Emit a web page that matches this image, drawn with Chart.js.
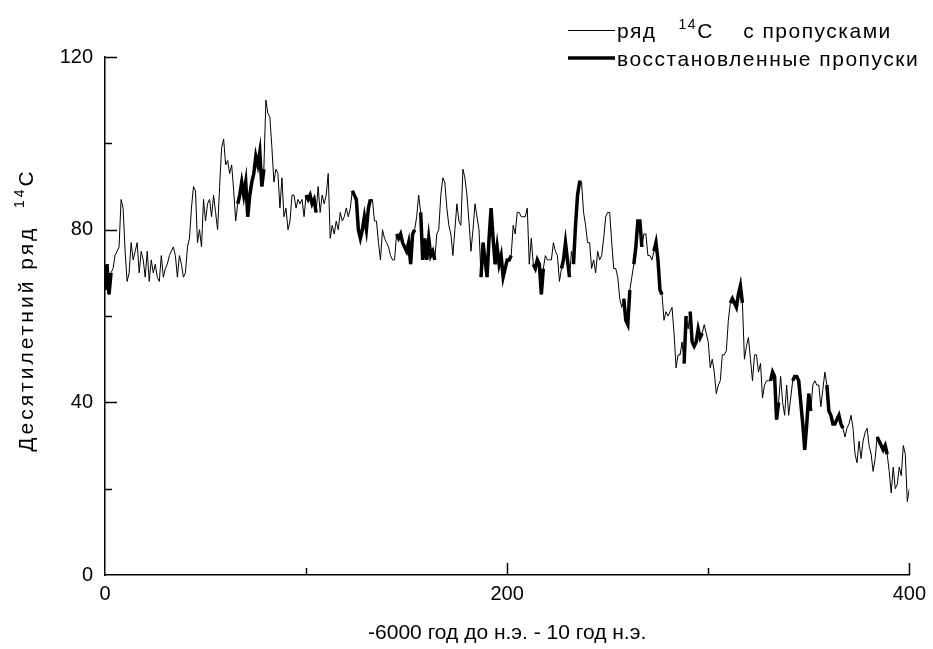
<!DOCTYPE html>
<html>
<head>
<meta charset="utf-8">
<script src="https://cdn.jsdelivr.net/npm/chart.js@4/dist/chart.umd.min.js"></script>
<style>
  body { margin: 0; background: #fff; }
</style>
</head>
<body>
<canvas id="c14-chart" width="933" height="649"></canvas>
<script>
const FONT = "'Liberation Sans', Arial, sans-serif";
Chart.defaults.font.family = FONT;
Chart.defaults.color = '#000';

// десятилетний ряд 14C (индекс 0..400)
let series14C = [
    66, 72, 65, 70, 71, 74, 75, 76, 87, 85,
    75, 68, 70, 77, 73, 75, 77, 70, 75, 73,
    69, 75, 68, 73, 70, 72, 69, 68, 74, 69,
    71, 72, 74, 75, 76, 74, 69, 74, 72, 69,
    70, 76, 78, 85, 90, 89, 77, 80, 76, 87,
    82, 86, 87, 83, 88, 84, 80, 90, 99, 101,
    95, 96, 93, 95, 89, 82, 86, 88, 91, 88,
    91, 83, 88, 91, 93, 97, 95, 98, 90, 94,
    110, 107, 106, 99, 91, 94, 93, 85, 92, 83,
    85, 80, 82, 88, 88, 85, 87, 86, 87, 83,
    88, 87, 88, 86, 87, 84, 90, 84, 88, 86,
    88, 93, 78, 81, 79, 82, 80, 84, 82, 83,
    85, 83, 85, 89, 88, 87, 80, 78, 80, 83,
    80, 85, 87, 87, 82, 82, 77, 73, 80, 78,
    77, 76, 74, 73, 73, 79, 78, 79, 77, 76,
    75, 77, 72, 79, 80, 83, 88, 84, 73, 78,
    73, 78, 74, 75, 73, 79, 80, 88, 92, 91,
    85, 81, 79, 74, 80, 86, 82, 81, 94, 92,
    88, 82, 75, 80, 86, 83, 80, 69, 77, 73,
    69, 78, 85, 78, 72, 76, 72, 74, 69, 71,
    73, 73, 74, 81, 79, 84, 84, 83, 83, 83,
    85, 72, 78, 72, 71, 73, 72, 65, 71, 74,
    73, 73, 73, 77, 75, 74, 68, 71, 73, 77,
    73, 69, 75, 72, 81, 88, 91, 91, 84, 81,
    77, 77, 71, 73, 70, 75, 73, 74, 78, 83,
    84, 84, 77, 71, 71, 69, 64, 62, 64, 59,
    58, 66, 69, 72, 76, 82, 82, 76, 79, 79,
    74, 74, 73, 75, 77, 73, 66, 65, 59, 61,
    60, 61, 62, 56, 48, 51, 51, 54, 49, 60,
    57, 61, 54, 53, 54, 57, 55, 56, 58, 56,
    54, 48, 50, 47, 42, 44, 45, 51, 51, 52,
    59, 63, 64, 63, 62, 65, 67, 63, 50, 53,
    55, 50, 45, 51, 51, 47, 49, 41, 44, 45,
    45, 45, 47, 46, 36, 40, 46, 40, 37, 44,
    37, 41, 45, 46, 46, 45, 40, 35, 29, 35,
    42, 38, 44, 45, 44, 44, 39, 43, 47, 44,
    38, 37, 35, 35, 36, 37, 35, 34, 32, 34,
    35, 37, 34, 28, 26, 31, 27, 31, 33, 34,
    30, 28, 24, 27, 32, 31, 30, 29, 30, 28,
    24, 19, 25, 20, 21, 25, 23, 30, 28, 17,
    20
];

// восстановленные пропуски: [начало, конец] индексов
let restoredRanges = [
    [0, 3], [66, 79], [100, 105], [123, 132], [145, 154], [157, 164],
    [187, 202], [213, 218], [227, 231], [233, 237], [258, 261], [263, 267],
    [273, 277], [288, 289], [291, 297], [311, 317], [331, 335], [342, 351],
    [359, 367], [384, 389]
];

let yTicks = [0, 40, 80, 120];
let xTicks = [0, 200, 400];

let labels = series14C.map((v, i) => i);
let restored = series14C.map((v, i) =>
    restoredRanges.some(r => i >= r[0] && i <= r[1]) ? v : null);

// тики внутрь, как в оригинале
const inwardTicks = {
    id: 'inwardTicks',
    afterDraw(chart) {
        const {ctx, chartArea, scales: {x, y}} = chart;
        ctx.save();
        ctx.strokeStyle = '#000';
        ctx.lineWidth = 1.5;
        for (let v = 20; v <= 120; v += 20) {
            const py = Math.round(y.getPixelForValue(v)) + 0.5;
            const len = v % 40 === 0 ? 12 : 7;
            ctx.beginPath();
            ctx.moveTo(chartArea.left, py);
            ctx.lineTo(chartArea.left + len, py);
            ctx.stroke();
        }
        for (let v = 100; v <= 400; v += 100) {
            const px = Math.round(x.getPixelForValue(v)) + 0.5;
            const len = v % 200 === 0 ? 12 : 7;
            ctx.beginPath();
            ctx.moveTo(px, chartArea.bottom);
            ctx.lineTo(px, chartArea.bottom - len);
            ctx.stroke();
        }
        ctx.restore();
    }
};

// подпись оси Y и легенда (с верхним индексом 14)
const textsPlugin = {
    id: 'textsPlugin',
    afterDraw(chart) {
        const ctx = chart.ctx;
        ctx.save();
        ctx.fillStyle = '#000';
        ctx.textBaseline = 'alphabetic';
        ctx.textAlign = 'left';

        // y title
        const yBig = '21px ' + FONT, ySmall = '14px ' + FONT;
        ctx.font = yBig;
        ctx.letterSpacing = '3px';
        const p1 = 'Десятилетний ряд  ', p3 = 'C';
        const w1 = ctx.measureText(p1).width, w3 = ctx.measureText(p3).width;
        ctx.font = ySmall;
        const w2 = ctx.measureText('14').width;
        const total = w1 + w2 + w3;
        ctx.translate(33, 310);
        ctx.rotate(-Math.PI / 2);
        let cx = -total / 2;
        ctx.font = yBig;
        ctx.fillText(p1, cx, 0);
        ctx.font = ySmall;
        ctx.fillText('14', cx + w1, -9);
        ctx.font = yBig;
        ctx.fillText(p3, cx + w1 + w2, 0);
        ctx.setTransform(1, 0, 0, 1, 0, 0);
        ctx.letterSpacing = '0px';

        // legend
        ctx.strokeStyle = '#000';
        ctx.lineWidth = 1;
        ctx.beginPath();
        ctx.moveTo(568, 30.5);
        ctx.lineTo(615, 30.5);
        ctx.stroke();
        ctx.lineWidth = 3.5;
        ctx.beginPath();
        ctx.moveTo(568, 58);
        ctx.lineTo(615, 58);
        ctx.stroke();

        const lBig = '21px ' + FONT, lSmall = '14px ' + FONT;
        ctx.letterSpacing = '1.5px';
        let lx = 617;
        ctx.font = lBig;
        ctx.fillText('ряд   ', lx, 38);
        lx += ctx.measureText('ряд   ').width;
        ctx.font = lSmall;
        ctx.fillText('14', lx, 29);
        lx += ctx.measureText('14').width;
        ctx.font = lBig;
        ctx.fillText('C    с пропусками', lx, 38);
        ctx.fillText('восстановленные пропуски', 617, 66);
        ctx.restore();
    }
};

const c14 = document.getElementById('c14-chart').getContext('2d');

let c14Chart = new Chart(c14, {
    type: 'line',
    data: {
        labels: labels,
        datasets: [{
            label: 'ряд 14C с пропусками',
            data: series14C,
            borderColor: '#000',
            borderWidth: 1,
            pointRadius: 0,
            tension: 0
        }, {
            label: 'восстановленные пропуски',
            data: restored,
            borderColor: '#000',
            borderWidth: 3.5,
            pointRadius: 0,
            tension: 0,
            spanGaps: false
        }]
    },
    options: {
        responsive: false,
        animation: false,
        layout: {
            padding: {top: 57, right: 20, left: 0, bottom: 0}
        },
        scales: {
            x: {
                type: 'linear',
                min: 0,
                max: 400,
                afterBuildTicks(s) { s.ticks = xTicks.map(v => ({value: v})); },
                ticks: {padding: 7, maxRotation: 0, font: {size: 20}},
                grid: {display: false, drawTicks: false},
                border: {color: '#000', width: 1.5},
                title: {
                    display: true,
                    text: '-6000 год до н.э. - 10 год н.э.',
                    font: {size: 21},
                    padding: {top: 4, bottom: 3}
                },
                afterFit(s) { s.height = 74; }
            },
            y: {
                min: 0,
                max: 120,
                afterBuildTicks(s) { s.ticks = yTicks.map(v => ({value: v})); },
                ticks: {padding: 12, font: {size: 20}},
                grid: {display: false, drawTicks: false},
                border: {color: '#000', width: 1.5},
                afterFit(s) { s.width = 105; }
            }
        },
        plugins: {
            legend: {display: false},
            tooltip: {enabled: false}
        }
    },
    plugins: [inwardTicks, textsPlugin]
});
</script>
</body>
</html>
